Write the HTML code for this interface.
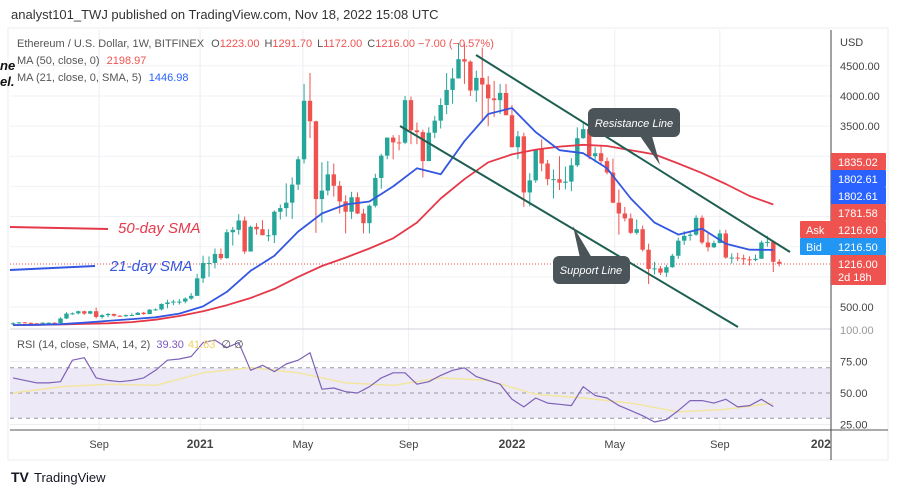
<!DOCTYPE html>
<html><head><meta charset="utf-8"><style>
body{margin:0;width:900px;height:494px;background:#fff;overflow:hidden;font-family:"Liberation Sans",sans-serif}
svg{position:absolute;left:0;top:0}
</style></head><body>
<svg id="c" width="900" height="494" viewBox="0 0 900 494" font-family="Liberation Sans, sans-serif">
<rect x="8" y="28" width="880" height="432" fill="#fff" stroke="#eceef2"/>
<g id="grid"></g>
<rect x="10" y="368" width="821" height="50" fill="#ede9f7"/>
<g id="rsiLines"></g>
<line x1="10" y1="264" x2="831" y2="264" stroke="#ef5350" stroke-dasharray="1,2"/>
<g id="marks"></g>
<g>
<line x1="476" y1="55" x2="790" y2="252" stroke="#1e5f52" stroke-width="2"/>
<line x1="400" y1="126" x2="738" y2="327" stroke="#1e5f52" stroke-width="2"/>
<line x1="10" y1="227" x2="108" y2="229" stroke="#e5394a" stroke-width="2"/>
<line x1="10" y1="270" x2="95" y2="266" stroke="#3357e0" stroke-width="2"/>
</g>
<text x="118" y="233" font-size="15" font-style="italic" fill="#e5394a">50-day SMA</text>
<text x="110" y="271" font-size="15" font-style="italic" fill="#3357e0">21-day SMA</text>
<g>
<path d="M640 136 L660 165 L652 136 Z" fill="#4b5559"/>
<rect x="588" y="108" width="92" height="29" rx="6" fill="#4b5559"/>
<text x="634" y="127" font-size="11" font-style="italic" fill="#fff" text-anchor="middle">Resistance Line</text>
</g>
<g>
<path d="M580 258 L573 226 L592 258 Z" fill="#4b5559"/>
<rect x="553" y="256" width="77" height="28" rx="6" fill="#4b5559"/>
<text x="591" y="274" font-size="11" font-style="italic" fill="#fff" text-anchor="middle">Support Line</text>
</g>
<line x1="10" y1="329" x2="831" y2="329" stroke="#d0d3d8"/>
<line x1="10" y1="430" x2="888" y2="430" stroke="#555"/>
<line x1="831" y1="30" x2="831" y2="460" stroke="#444"/>
<g id="axis" font-size="11" fill="#444"></g>
<text x="11" y="19" font-size="13" fill="#333">analyst101_TWJ published on TradingView.com, Nov 18, 2022 15:08 UTC</text>
<text x="17" y="47" font-size="11" fill="#555">Ethereum / U.S. Dollar, 1W, BITFINEX <tspan dx="4">O</tspan><tspan fill="#ef5350">1223.00</tspan><tspan dx="5">H</tspan><tspan fill="#ef5350">1291.70</tspan><tspan dx="5">L</tspan><tspan fill="#ef5350">1172.00</tspan><tspan dx="5">C</tspan><tspan fill="#ef5350">1216.00 −7.00 (−0.57%)</tspan></text>
<text x="17" y="64" font-size="11" fill="#555">MA (50, close, 0) <tspan fill="#ef5350" dx="4">2198.97</tspan></text>
<text x="17" y="81" font-size="11" fill="#555">MA (21, close, 0, SMA, 5) <tspan fill="#2962ff" dx="4">1446.98</tspan></text>
<text x="0" y="70" font-size="13" font-weight="bold" font-style="italic" fill="#111">ne</text>
<text x="0" y="86" font-size="13" font-weight="bold" font-style="italic" fill="#111">el.</text>
<text x="17" y="348" font-size="11" fill="#555">RSI (14, close, SMA, 14, 2) <tspan fill="#7e57c2" dx="3">39.30</tspan><tspan fill="#f0d060" dx="4">41.63</tspan><tspan dx="6">∅  ∅</tspan></text>
<g>
<text x="11" y="482" font-size="14" font-weight="bold" fill="#131722">TV</text>
<text x="34" y="482" font-size="13" fill="#131722">TradingView</text>
</g>
</svg>
<script>
const closes=[230,245,237,229,225,240,240,232,310,390,395,430,390,430,335,365,385,355,346,365,368,405,383,455,460,550,575,590,590,640,685,975,
1230,1230,1380,1310,1740,1780,1935,1420,1830,1790,1690,1690,2080,2140,2230,2530,2950,3920,3580,2290,2430,2700,2510,2250,2080,2320,2050,1890,2180,2640,3010,3310,3230,3225,3930,3430,3400,2920,3390,3590,3850,4100,4290,4610,4570,4090,4300,4190,3960,3930,4050,3680,
3150,3330,2400,2600,3120,2880,2620,2620,2560,2580,2850,3300,3450,3000,3050,2920,2730,2230,2050,1970,1730,1790,1450,1130,1140,1070,1160,1350,1600,1680,1700,1980,1570,1490,1560,1720,1320,1320,1310,1290,1280,1300,1570,1580,1250,1216];
const highs=[250,250,250,245,235,245,245,245,330,415,410,440,440,440,490,380,400,390,365,375,395,415,420,465,475,560,620,620,635,660,730,1050,
1350,1340,1470,1470,1790,1830,2040,2000,1850,1890,1940,1790,2100,2200,2550,2650,3000,4200,4380,3590,2900,2920,2880,2590,2350,2410,2400,2130,2200,2710,3040,3310,3350,3350,4000,3990,3560,3440,3480,3670,3960,4380,4460,4880,4870,4590,4420,4800,4330,4250,4200,4200,
3850,3420,3390,2720,3090,3280,2940,2780,3000,2830,2970,3480,3580,3500,3150,3190,2980,2960,2450,2160,2050,1950,1850,1550,1250,1180,1200,1380,1650,1760,1750,2020,2020,1720,1600,1780,1780,1390,1400,1370,1340,1370,1600,1680,1600,1291.7];
const lows=[200,225,228,220,215,222,232,228,232,300,370,378,370,380,310,308,330,340,340,338,360,368,370,382,438,445,480,530,540,560,620,685,
900,1000,1140,1280,1300,1520,1700,1380,1430,1700,1720,1590,1560,1950,2000,1960,2440,2880,3300,1730,1900,2350,2330,2050,1720,1960,2040,1720,1720,2150,2460,2950,2950,3100,3200,3200,3200,2650,2960,3300,3460,3700,3870,4300,4200,4000,3900,3600,3500,3650,3700,3700,
3600,2950,2160,2170,2560,2750,2520,2300,2440,2450,2420,2820,3290,2950,2900,2870,2700,2220,1700,1920,1710,1700,1420,880,1040,1030,1000,1150,1300,1530,1600,1680,1540,1420,1480,1560,1300,1220,1260,1200,1190,1260,1300,1500,1080,1172];
const firstOpen=220;
const ma50=[200,205,210,220,230,250,290,350,430,530,650,800,1000,1180,1320,1470,1640,1900,2300,2620,2900,3030,3110,3160,3190,3170,3100,3030,2880,2720,2540,2340,2200];
const ma21=[200,205,215,240,270,300,330,390,510,750,1100,1350,1750,2050,2200,2250,2500,2800,2700,3250,3700,3800,3400,3100,3050,2800,2300,1900,1700,1800,1550,1450,1447];
const rsi=[62,60,58,58,59,76,78,62,60,59,60,62,68,76,77,79,90,92,86,90,68,72,67,73,76,82,53,54,51,50,55,62,66,66,57,59,64,68,70,63,60,57,45,39,46,42,41,40,55,48,46,40,36,32,27,29,36,44,44,42,45,39,40,45,39.3];
const rsiSma=[50,55,57,56,66,70,66,58,56,62,60,49,46,42,35,37,42];
const priceTicks=[4500,4000,3500,3000,2500,2000,1500,1000,500];
const timeLabels=["Sep","2021","May","Sep","2022","May","Sep","202"];
const timeWeeks=[14.5,31.5,48.8,66.6,84,101.3,119,136];
const rsiTicks=[75,50,25];

const NS="http://www.w3.org/2000/svg";
const xOf=i=>13+i*5.94;
const yP=p=>307-(p-500)*0.0603;
const yR=v=>393-(v-50)*1.26;
function mk(tag,attrs,parent){const e=document.createElementNS(NS,tag);for(const k in attrs)e.setAttribute(k,attrs[k]);parent.appendChild(e);return e;}
const grid=document.getElementById('grid'),marks=document.getElementById('marks'),axis=document.getElementById('axis'),rl=document.getElementById('rsiLines');
priceTicks.forEach(p=>{const l=mk('line',{x1:10,x2:831,y1:yP(p),y2:yP(p),stroke:'#f0f2f5'},grid);

});
timeWeeks.forEach((w,k)=>{if(k<7){const l=mk('line',{x1:xOf(w),x2:xOf(w),y1:30,y2:430,stroke:'#eceef2'},grid);

}
const bold=/\d/.test(timeLabels[k]);
const t=mk('text',{x:xOf(w),y:448,'text-anchor':'middle','font-size':bold?12:11,'font-weight':bold?'bold':'normal'},axis);t.textContent=timeLabels[k];

});
[75,70,50,30,25].forEach(v=>{const dashed=(v===70||v===50||v===30);const l=mk('line',{x1:10,x2:831,y1:yR(v),y2:yR(v),stroke:dashed?'#9598a1':'#eceef2','stroke-dasharray':dashed?'4,4':'none'},rl);

});
closes.forEach((c,i)=>{const o=i?closes[i-1]:firstOpen;const up=c>=o;const col=up?'#26a69a':'#ef5350';const x=xOf(i);
const hi=Math.max(highs[i],o,c),lo=Math.min(lows[i],o,c);
const w=mk('line',{x1:x,x2:x,y1:yP(hi),y2:yP(lo),stroke:col,'stroke-width':1},marks);


const top=yP(Math.max(o,c)),bot=yP(Math.min(o,c));
const b=mk('rect',{x:x-2.2,y:top,width:4.4,height:Math.max(1,bot-top),fill:col},marks);

});
function line(arr,step,yf,col,wd,name){const d=arr.map((v,k)=>(k?'L':'M')+xOf(k*step).toFixed(1)+' '+yf(v).toFixed(1)).join(' ');
const p=mk('path',{d:d,fill:'none',stroke:col,'stroke-width':wd,'stroke-linejoin':'round'},marks);

}
line(ma50,4,yP,'#e5394a',1.8,'ma50-line');
line(ma21,4,yP,'#3357e0',1.8,'ma21-line');
line(rsiSma,8,yR,'#f3e6a0',1.5,'rsi-sma-line');
line(rsi,2,yR,'#7e62b8',1.2,'rsi-line');
[4500,4000,3500].forEach(p=>{const t=mk('text',{x:840,y:yP(p)+4},axis);t.textContent=p.toFixed(2);

});
const u=mk('text',{x:840,y:46},axis);u.textContent='USD';


const f=mk('text',{x:840,y:yP(500)+4},axis);f.textContent='500.00';


const h=mk('text',{x:840,y:334,fill:'#999'},axis);h.textContent='100.00';


rsiTicks.forEach(v=>{const t=mk('text',{x:840,y:yR(v)+4},axis);t.textContent=v.toFixed(2);

});
const tags=[["1835.02",153,'#ef5350'],["1802.61",170,'#2962ff'],["1802.61",187,'#2962ff'],["1781.58",204,'#ef5350']];
tags.forEach(t=>{const r=mk('rect',{x:831,y:t[1],width:55,height:17,fill:t[2],rx:1},axis);


const s=mk('text',{x:838,y:t[1]+13,fill:'#fff'},axis);s.textContent=t[0];

});
const ask=mk('rect',{x:800,y:221,width:86,height:17,fill:'#ef5350',rx:1},axis);


const at=mk('text',{x:806,y:234,fill:'#fff'},axis);at.textContent='Ask';


const av=mk('text',{x:838,y:234,fill:'#fff'},axis);av.textContent='1216.60';


const bid=mk('rect',{x:800,y:238,width:86,height:17,fill:'#2196f3',rx:1},axis);


const bt=mk('text',{x:806,y:251,fill:'#fff'},axis);bt.textContent='Bid';


const bv=mk('text',{x:838,y:251,fill:'#fff'},axis);bv.textContent='1216.50';


const lr=mk('rect',{x:831,y:255,width:55,height:30,fill:'#ef5350',rx:1},axis);


const l1=mk('text',{x:838,y:268,fill:'#fff'},axis);l1.textContent='1216.00';


const l2=mk('text',{x:838,y:281,fill:'#fff'},axis);l2.textContent='2d 18h';


</script>
</body></html>
